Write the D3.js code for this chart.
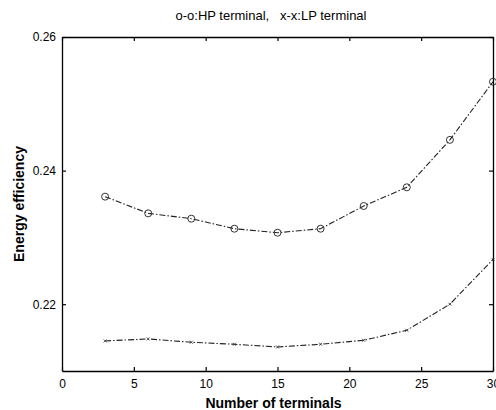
<!DOCTYPE html>
<html>
<head>
<meta charset="utf-8">
<script src="https://cdn.jsdelivr.net/npm/d3@7"></script>
<style>
  body { margin: 0; background: #fff; }
  text { font-family: "Liberation Sans", Arial, sans-serif; fill: #000; }
</style>
</head>
<body>
<div id="chart"></div>
<script>
// number of terminals
const terminals = [3, 6, 9, 12, 15, 18, 21, 24, 27, 30];
// energy efficiency, HP terminals (o-o)
const hpValues = [0.2361, 0.2336, 0.2328, 0.2313, 0.2307, 0.2313, 0.2347, 0.2375, 0.2446, 0.2533];
// energy efficiency, LP terminals (x-x)
const lpValues = [0.2145, 0.2148, 0.2143, 0.2140, 0.2136, 0.2140, 0.2146, 0.2161, 0.2200, 0.2267];
const xTicks = [0, 5, 10, 15, 20, 25, 30];
const yTicks = [0.22, 0.24, 0.26];

const margin = {top: 37, right: 3, bottom: 39, left: 62};
const width = 496 - margin.left - margin.right;
const height = 410 - margin.top - margin.bottom;

const svg = d3.select("#chart")
  .append("svg")
    .attr("width", 496)
    .attr("height", 410);

const g = svg.append("g")
    .attr("transform", `translate(${margin.left}, ${margin.top})`);

const x = d3.scaleLinear().domain([0, 30]).range([0, width]);
const y = d3.scaleLinear().domain([0.21, 0.26]).range([height, 0]);

// axes, ticks pointing inward like matlab
g.append("g")
  .attr("transform", `translate(0, ${height})`)
  .call(d3.axisBottom(x).tickValues(xTicks).tickFormat(d3.format("d")).tickSizeInner(-4).tickSizeOuter(0).tickPadding(8));
g.append("g")
  .call(d3.axisTop(x).tickValues(xTicks).tickFormat("").tickSizeInner(-4).tickSizeOuter(0));
g.append("g")
  .call(d3.axisLeft(y).tickValues(yTicks).tickFormat(d3.format(".2f")).tickSizeInner(-4).tickSizeOuter(0).tickPadding(6));
g.append("g")
  .attr("transform", `translate(${width}, 0)`)
  .call(d3.axisRight(y).tickValues(yTicks).tickFormat("").tickSizeInner(-4).tickSizeOuter(0));

g.selectAll(".domain").attr("stroke", "#000").attr("stroke-width", 1.3);
g.selectAll(".tick line").attr("stroke", "#000").attr("stroke-width", 1.2);
g.selectAll(".tick text").style("font-size", "12px");

const line = d3.line()
  .x((d, i) => x(terminals[i]))
  .y(d => y(d));

g.append("path")
  .datum(hpValues)
  .attr("d", line)
  .attr("fill", "none")
  .attr("stroke", "#222")
  .attr("stroke-width", 1.1)
  .attr("stroke-dasharray", "6,2,1.5,2");

g.append("path")
  .datum(lpValues)
  .attr("d", line)
  .attr("fill", "none")
  .attr("stroke", "#222")
  .attr("stroke-width", 1.1)
  .attr("stroke-dasharray", "6,2,1.5,2");

// circle markers
g.selectAll(".hp")
  .data(hpValues)
  .enter()
  .append("circle")
    .attr("cx", (d, i) => x(terminals[i]))
    .attr("cy", d => y(d))
    .attr("r", 3.5)
    .attr("fill", "none")
    .attr("stroke", "#333")
    .attr("stroke-width", 1);

// small x markers
g.selectAll(".lp")
  .data(lpValues)
  .enter()
  .append("path")
    .attr("d", (d, i) => {
      const cx = x(terminals[i]), cy = y(d), s = 1.5;
      return `M${cx - s},${cy - s}L${cx + s},${cy + s}M${cx - s},${cy + s}L${cx + s},${cy - s}`;
    })
    .attr("stroke", "#333")
    .attr("stroke-width", 0.8);

// title and labels
svg.append("text")
  .attr("x", 271)
  .attr("y", 20)
  .attr("text-anchor", "middle")
  .style("font-size", "13px")
  .text("o-o:HP terminal,\u00a0\u00a0\u00a0x-x:LP terminal");

svg.append("text")
  .attr("x", margin.left + width / 2 - 4)
  .attr("y", 408)
  .attr("text-anchor", "middle")
  .style("font-size", "14px")
  .style("font-weight", "bold")
  .text("Number of terminals");

svg.append("text")
  .attr("transform", `translate(24, ${margin.top + height / 2}) rotate(-90)`)
  .attr("text-anchor", "middle")
  .style("font-size", "14px")
  .style("font-weight", "bold")
  .text("Energy efficiency");
</script>
</body>
</html>
